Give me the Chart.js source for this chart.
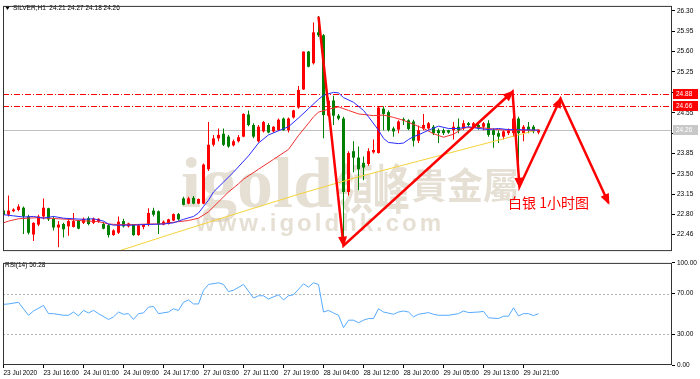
<!DOCTYPE html>
<html>
<head>
<meta charset="utf-8">
<script src="https://cdn.jsdelivr.net/npm/chart.js@4.4.0/dist/chart.umd.min.js"></script>
<style>
  html, body { margin: 0; padding: 0; background: #fff; }
  #wrap { position: relative; width: 700px; height: 379px; overflow: hidden; }
  canvas { position: absolute; left: 0; }
  #mainChart { top: 0; }
  #rsiChart { top: 257px; }
</style>
</head>
<body>
<div id="wrap">
  <canvas id="mainChart" width="700" height="257"></canvas>
  <canvas id="rsiChart" width="700" height="122"></canvas>
</div>
<script>
// SILVER H1 candles (red = up, green = down)
const opens = [22.87,22.80,22.86,22.88,22.92,22.77,22.46,22.63,22.77,22.91,22.73,22.58,22.64,22.60,22.59,22.70,22.66,22.74,22.66,22.68,
  22.64,22.62,22.45,22.49,22.69,22.60,22.63,22.45,22.59,22.63,22.87,22.86,22.63,22.64,22.70,22.81,23.08,22.99,23.09,22.99,
  22.99,23.58,24.00,24.11,24.19,24.14,23.99,24.06,24.14,24.52,24.34,24.06,24.23,24.34,24.23,24.25,24.45,24.25,24.47,24.64,
  24.95,25.60,25.40,25.93,25.88,24.50,24.76,24.50,24.45,23.19,23.89,23.78,23.69,23.67,23.87,23.86,24.62,24.56,24.28,24.26,
  24.44,24.42,24.40,24.07,24.28,24.28,24.31,24.25,24.25,24.25,24.25,24.31,24.28,24.37,24.31,24.34,24.31,24.37,24.25,24.20,
  24.14,24.20,24.20,24.45,24.20,24.31,24.31,24.21];
const highs = [22.88,23.13,22.91,22.98,22.94,22.80,22.67,22.80,23.08,22.92,22.77,22.69,22.66,22.72,22.83,22.71,22.75,22.77,22.75,22.74,
  22.68,22.64,22.55,22.77,22.73,22.66,22.64,22.63,22.64,22.91,22.92,22.87,22.70,22.73,22.82,22.83,23.11,23.11,23.12,23.08,
  23.68,24.39,24.17,24.28,24.28,24.17,24.09,24.17,24.54,24.59,24.37,24.34,24.41,24.37,24.32,24.45,24.47,24.47,24.60,25.01,
  25.60,25.61,26.10,26.21,25.90,24.81,24.84,24.53,24.48,23.89,24.06,23.97,23.80,23.94,24.09,24.66,24.66,24.59,24.31,24.42,
  24.47,24.44,24.43,24.33,24.53,24.39,24.34,24.28,24.28,24.26,24.39,24.45,24.42,24.39,24.39,24.36,24.39,24.42,24.28,24.25,
  24.25,24.28,24.51,24.48,24.34,24.39,24.34,24.27];
const lows = [22.77,22.77,22.84,22.86,22.47,22.46,22.35,22.60,22.72,22.69,22.53,22.24,22.41,22.44,22.58,22.55,22.64,22.62,22.64,22.66,
  22.55,22.41,22.44,22.47,22.58,22.58,22.44,22.44,22.55,22.60,22.77,22.47,22.62,22.63,22.69,22.70,22.96,22.98,22.98,22.98,
  22.98,23.55,23.97,24.06,23.98,23.95,23.97,24.04,24.13,24.32,24.11,24.04,24.21,24.20,24.21,24.24,24.24,24.21,24.45,24.62,
  24.94,25.33,25.38,25.85,24.11,24.48,24.34,24.42,22.30,23.13,23.53,23.22,23.39,23.64,23.85,23.85,24.25,24.23,24.14,24.20,
  24.34,24.25,23.97,24.03,24.25,24.26,24.17,24.03,24.17,24.19,24.09,24.20,24.25,24.31,24.30,24.26,24.25,24.14,23.95,24.03,
  24.09,24.17,24.14,23.41,24.06,24.20,24.20,24.18];
const closes = [22.80,22.87,22.89,22.94,22.77,22.49,22.66,22.77,22.92,22.72,22.58,22.63,22.55,22.69,22.69,22.56,22.73,22.64,22.73,22.73,
  22.56,22.45,22.53,22.68,22.60,22.65,22.45,22.62,22.63,22.83,22.80,22.63,22.68,22.72,22.81,22.72,22.97,23.08,22.99,23.07,
  23.66,24.00,24.11,24.17,24.00,23.97,24.06,24.13,24.53,24.34,24.14,24.31,24.39,24.21,24.31,24.43,24.25,24.45,24.59,24.94,
  25.60,25.34,25.93,25.88,24.51,24.76,24.50,24.45,23.19,23.86,23.78,23.58,23.61,23.89,23.91,24.64,24.53,24.25,24.23,24.40,
  24.42,24.27,24.07,24.25,24.34,24.37,24.20,24.20,24.20,24.21,24.31,24.25,24.37,24.34,24.37,24.28,24.37,24.17,24.17,24.14,
  24.23,24.25,24.45,24.20,24.31,24.25,24.23,24.26];

// moving averages, [bar, price] read at points along each line
const maBlue = [[0,22.80],[2,22.78],[4,22.76],[6,22.77],[8,22.74],[10,22.77],[12,22.74],[14,22.73],[16,22.72],[18,22.73],[20,22.69],
  [21,22.64],[22,22.62],[26,22.62],[28,22.63],[32,22.64],[34,22.66],[36,22.72],[38,22.77],[39,22.83],[40,22.94],[41,23.05],[42,23.19],
  [44,23.36],[46,23.53],[49,23.81],[51,24.03],[53,24.17],[55,24.24],[57,24.31],[59,24.46],[61,24.62],[63,24.78],[64,24.85],[66,24.90],
  [67,24.89],[68,24.81],[70,24.73],[72,24.59],[73,24.48],[75,24.25],[76,24.11],[77,24.04],[79,24.02],[80,24.03],[81,24.09],[82,24.14],
  [83,24.17],[85,24.25],[87,24.32],[89,24.28],[91,24.28],[93,24.31],[95,24.28],[97,24.26],[99,24.28],[101,24.26],[103,24.26],[107,24.25]];
const maRed = [[0,22.66],[1,22.69],[3,22.73],[5,22.74],[7,22.75],[9,22.74],[11,22.73],[13,22.72],[15,22.70],[17,22.69],[19,22.68],
  [21,22.64],[23,22.63],[26,22.63],[29,22.64],[31,22.64],[33,22.66],[35,22.68],[37,22.70],[39,22.74],[41,22.85],[43,23.02],[45,23.19],
  [47,23.33],[48,23.41],[51,23.58],[54,23.75],[57,23.92],[59,24.16],[61,24.37],[62,24.48],[63,24.56],[65,24.61],[67,24.65],[69,24.59],
  [71,24.53],[74,24.50],[76,24.51],[78,24.47],[80,24.42],[82,24.35],[84,24.28],[86,24.19],[88,24.13],[90,24.18],[92,24.29],[95,24.30],
  [97,24.28],[99,24.26],[101,24.25],[107,24.25]];
const maYellow = [[21,22.12],[34,22.48],[47,22.83],[59,23.15],[71,23.45],[83,23.72],[95,23.99],[107,24.26]];

// horizontal levels and the last price
const levelLines = [24.88, 24.66];
const lastPrice = 24.26;

// axis ticks
const yTicks = [26.30, 25.95, 25.60, 25.25, 24.90, 24.55, 24.20, 23.85, 23.50, 23.15, 22.80, 22.46];
const xTickIdx = [0, 8, 16, 24, 32, 40, 48, 56, 64, 72, 80, 88, 96, 104];
const xLabels = ['23 Jul 2020', '23 Jul 16:00', '24 Jul 01:00', '24 Jul 09:00', '24 Jul 17:00', '27 Jul 03:00', '27 Jul 11:00',
  '27 Jul 19:00', '28 Jul 04:00', '28 Jul 12:00', '28 Jul 20:00', '29 Jul 05:00', '29 Jul 13:00', '29 Jul 21:00'];

// RSI(14), [bar, value]
const rsiPoints = [[0,59.4],[1,59.8],[3,61.4],[5,48.7],[6,52.9],[8,58.3],[9,50.3],[10,50.3],[12,48.7],[13,48.7],[14,51.9],[15,48.1],
  [16,53.5],[17,51.0],[18,53.5],[19,50.3],[21,44.6],[22,47.1],[23,51.9],[24,49.7],[25,50.3],[26,44.6],[27,50.3],[28,51.0],[29,56.7],
  [30,57.3],[31,50.3],[33,51.9],[34,55.1],[35,53.5],[36,61.4],[37,63.7],[38,59.8],[39,59.8],[40,73.2],[41,78.9],[43,80.5],[44,78.9],
  [45,71.9],[46,73.2],[48,78.9],[50,65.6],[51,67.8],[52,67.8],[53,64.6],[55,68.8],[56,63.7],[57,67.8],[58,68.8],[60,79.5],[61,76.3],
  [62,80.5],[63,78.9],[64,51.9],[65,53.5],[66,51.0],[67,48.7],[68,36.6],[69,43.9],[70,43.9],[71,41.4],[72,43.9],[73,45.5],[74,45.5],
  [75,55.1],[76,51.9],[78,49.7],[79,51.9],[80,52.9],[81,51.9],[82,47.1],[83,49.7],[85,51.3],[86,49.7],[87,48.7],[89,48.7],[91,50.3],
  [92,52.9],[93,51.3],[95,51.9],[96,52.5],[97,46.2],[99,45.5],[100,47.8],[101,47.8],[102,56.0],[103,48.1],[104,50.3],[105,50.3],
  [106,48.4],[107,50.28]];
const rsiLevels = [70, 30];
const rsiTicks = [100, 70, 30, 0];

// hand-drawn forecast arrows and note, [bar, price]
const arrowPath = [[63,26.20],[68,22.27],[101.8,24.91],[103.2,23.28],[111.4,24.79],[121,23.00]];
const noteText = '白银 1小时图';
const notePos = [100.9, 23.0];

const titleText = 'SILVER,H1  24.21 24.27 24.18 24.26';
const rsiTitle = 'RSI(14) 50.28';

// scale ranges
const xMin = -0.1, xMax = 133.7;
const yMin = 22.175, yMax = 26.384;

const UP = '#ff0000', DOWN = '#008000';
const tickFont = { family: 'Liberation Sans', size: 6.5 };
const pts = a => a.map(p => ({ x: p[0], y: p[1] }));

const idx = opens.map((_, i) => i);
const candleColors = idx.map(i => closes[i] >= opens[i] ? UP : DOWN);

// frame around plot area
const framePlugin = {
  id: 'frame',
  afterDraw(chart) {
    const { ctx, chartArea: a } = chart;
    ctx.save();
    ctx.strokeStyle = '#333';
    ctx.lineWidth = 1;
    ctx.strokeRect(a.left + 0.5, a.top + 0.5, a.right - a.left - 1, a.bottom - a.top - 1);
    ctx.restore();
  }
};

// beige watermark behind the candles
const watermarkPlugin = {
  id: 'watermark',
  beforeDatasetsDraw(chart) {
    const ctx = chart.ctx;
    ctx.save();
    ctx.fillStyle = 'rgba(205,193,170,0.5)';
    ctx.textBaseline = 'alphabetic';
    ctx.font = 'bold 72px "Liberation Serif"';
    ctx.fillText('igold', 181, 207);
    // tall brush-like characters
    ctx.save();
    ctx.translate(336, 209);
    ctx.scale(1, 1.45);
    ctx.font = 'bold 37px "Noto Sans CJK TC"';
    ctx.fillText('領峰', 0, 0);
    ctx.restore();
    ctx.font = 'bold 36px "Noto Sans CJK TC"';
    ctx.fillText('貴金屬', 411, 199);
    ctx.font = 'bold 24px "Liberation Sans"';
    ctx.letterSpacing = '3px';
    ctx.fillText('www.igoldhk.com', 196, 231);
    ctx.restore();
  }
};

// dash-dot levels and the last price line
const levelsPlugin = {
  id: 'levels',
  beforeDatasetsDraw(chart) {
    const { ctx, chartArea: a, scales: { y } } = chart;
    ctx.save();
    ctx.lineWidth = 1;
    let py = Math.round(y.getPixelForValue(lastPrice)) + 0.5;
    ctx.strokeStyle = '#c0c0c0';
    ctx.beginPath(); ctx.moveTo(a.left, py); ctx.lineTo(a.right, py); ctx.stroke();
    ctx.strokeStyle = '#ff0000';
    ctx.setLineDash([6, 2, 1, 2]);
    levelLines.forEach(v => {
      py = Math.round(y.getPixelForValue(v)) + 0.5;
      ctx.beginPath(); ctx.moveTo(a.left, py); ctx.lineTo(a.right, py); ctx.stroke();
    });
    ctx.restore();
  },
  afterDraw(chart) {
    const { ctx, chartArea: a, scales: { y } } = chart;
    ctx.save();
    ctx.font = '6.5px "Liberation Sans"';
    ctx.textBaseline = 'middle';
    const tag = (v, bg) => {
      const py = Math.round(y.getPixelForValue(v));
      ctx.fillStyle = bg;
      ctx.fillRect(a.right + 1, py - 5, 25, 10);
      ctx.fillStyle = '#fff';
      ctx.fillText(v.toFixed(2), a.right + 4, py);
    };
    tag(lastPrice, '#c8c8c8');
    levelLines.forEach(v => tag(v, '#ff0000'));
    // title
    ctx.fillStyle = '#000';
    ctx.beginPath(); ctx.moveTo(5, 6); ctx.lineTo(10, 6); ctx.lineTo(7.5, 10); ctx.closePath(); ctx.fill();
    ctx.fillText(titleText, 13, 8.5);
    ctx.restore();
  }
};

// red arrows and note
const arrowsPlugin = {
  id: 'arrows',
  afterDatasetsDraw(chart) {
    const { ctx, scales: { x, y } } = chart;
    const p = arrowPath.map(q => [x.getPixelForValue(q[0]), y.getPixelForValue(q[1])]);
    ctx.save();
    ctx.strokeStyle = '#ff0000';
    ctx.fillStyle = '#ff0000';
    ctx.lineWidth = 2.5;
    ctx.beginPath();
    p.forEach((q, i) => i ? ctx.lineTo(q[0], q[1]) : ctx.moveTo(q[0], q[1]));
    ctx.stroke();
    for (let i = 1; i < p.length; i++) {
      const ang = Math.atan2(p[i][1] - p[i - 1][1], p[i][0] - p[i - 1][0]);
      ctx.save();
      ctx.translate(p[i][0], p[i][1]);
      ctx.rotate(ang);
      ctx.beginPath(); ctx.moveTo(2, 0); ctx.lineTo(-9, -4.5); ctx.lineTo(-9, 4.5); ctx.closePath(); ctx.fill();
      ctx.restore();
    }
    ctx.font = '14px "Noto Sans CJK SC"';
    ctx.textBaseline = 'middle';
    ctx.fillText(noteText, x.getPixelForValue(notePos[0]), y.getPixelForValue(notePos[1]));
    ctx.restore();
  }
};

new Chart(document.getElementById('mainChart'), {
  type: 'bar',
  data: {
    datasets: [
      { type: 'line', data: pts(maBlue), borderColor: '#2b2bff', borderWidth: 1, pointRadius: 0, order: 0 },
      { type: 'line', data: pts(maRed), borderColor: '#f03030', borderWidth: 1, pointRadius: 0, order: 1 },
      { type: 'line', data: pts(maYellow), borderColor: '#f5d23a', borderWidth: 1, pointRadius: 0, order: 2 },
      { data: idx.map(i => ({ x: i, y: [opens[i], closes[i]] })), backgroundColor: candleColors,
        barThickness: 3, minBarLength: 1, grouped: false, inflateAmount: 0, order: 3 },
      { data: idx.map(i => ({ x: i, y: [lows[i], highs[i]] })), backgroundColor: candleColors,
        barThickness: 1, grouped: false, inflateAmount: 0, order: 4 }
    ]
  },
  options: {
    responsive: false, animation: false, events: [],
    layout: { padding: { left: 3, top: 3, bottom: 3, right: 0 } },
    plugins: { legend: { display: false }, tooltip: { enabled: false } },
    scales: {
      x: { type: 'linear', min: xMin, max: xMax, offset: false, display: false },
      y: {
        position: 'right', min: yMin, max: yMax, beginAtZero: false,
        afterFit: s => { s.width = 28; },
        afterBuildTicks: s => { s.ticks = yTicks.map(v => ({ value: v })); },
        ticks: { font: tickFont, color: '#000', padding: 2, callback: v => v.toFixed(2) },
        grid: { drawOnChartArea: false, tickLength: 3, color: '#000' },
        border: { display: false }
      }
    }
  },
  plugins: [watermarkPlugin, levelsPlugin, arrowsPlugin, framePlugin]
});

// RSI panel
const rsiPlugin = {
  id: 'rsiLevels',
  beforeDatasetsDraw(chart) {
    const { ctx, chartArea: a, scales: { y } } = chart;
    ctx.save();
    ctx.strokeStyle = '#b4b4b4';
    ctx.lineWidth = 1;
    ctx.setLineDash([2, 2]);
    rsiLevels.forEach(v => {
      const py = Math.round(y.getPixelForValue(v)) + 0.5;
      ctx.beginPath(); ctx.moveTo(a.left, py); ctx.lineTo(a.right, py); ctx.stroke();
    });
    ctx.restore();
  },
  afterDraw(chart) {
    const ctx = chart.ctx;
    ctx.save();
    ctx.font = '6.5px "Liberation Sans"';
    ctx.fillStyle = '#000';
    ctx.textBaseline = 'middle';
    ctx.fillText(rsiTitle, 5, 8);
    ctx.restore();
  }
};

new Chart(document.getElementById('rsiChart'), {
  type: 'line',
  data: {
    datasets: [
      { data: pts(rsiPoints), borderColor: '#55aaff', borderWidth: 1, pointRadius: 0, tension: 0 }
    ]
  },
  options: {
    responsive: false, animation: false, events: [],
    layout: { padding: { left: 3, top: 2, bottom: 0, right: 0 } },
    plugins: { legend: { display: false }, tooltip: { enabled: false } },
    scales: {
      x: {
        type: 'linear', min: xMin, max: xMax, offset: false,
        afterFit: s => { s.height = 14; },
        afterBuildTicks: s => { s.ticks = xTickIdx.map(v => ({ value: v })); },
        ticks: { font: tickFont, color: '#000', padding: 1, align: 'start', autoSkip: false, maxRotation: 0,
          callback: v => xLabels[xTickIdx.indexOf(v)] },
        grid: { drawOnChartArea: false, tickLength: 3, color: '#000' },
        border: { display: false }
      },
      y: {
        position: 'right', min: 0, max: 100,
        afterFit: s => { s.width = 28; },
        afterBuildTicks: s => { s.ticks = rsiTicks.map(v => ({ value: v })); },
        ticks: { font: tickFont, color: '#000', padding: 2, callback: v => v.toFixed(2) },
        grid: { drawOnChartArea: false, tickLength: 3, color: '#000' },
        border: { display: false }
      }
    }
  },
  plugins: [rsiPlugin, framePlugin]
});
</script>
</body>
</html>
